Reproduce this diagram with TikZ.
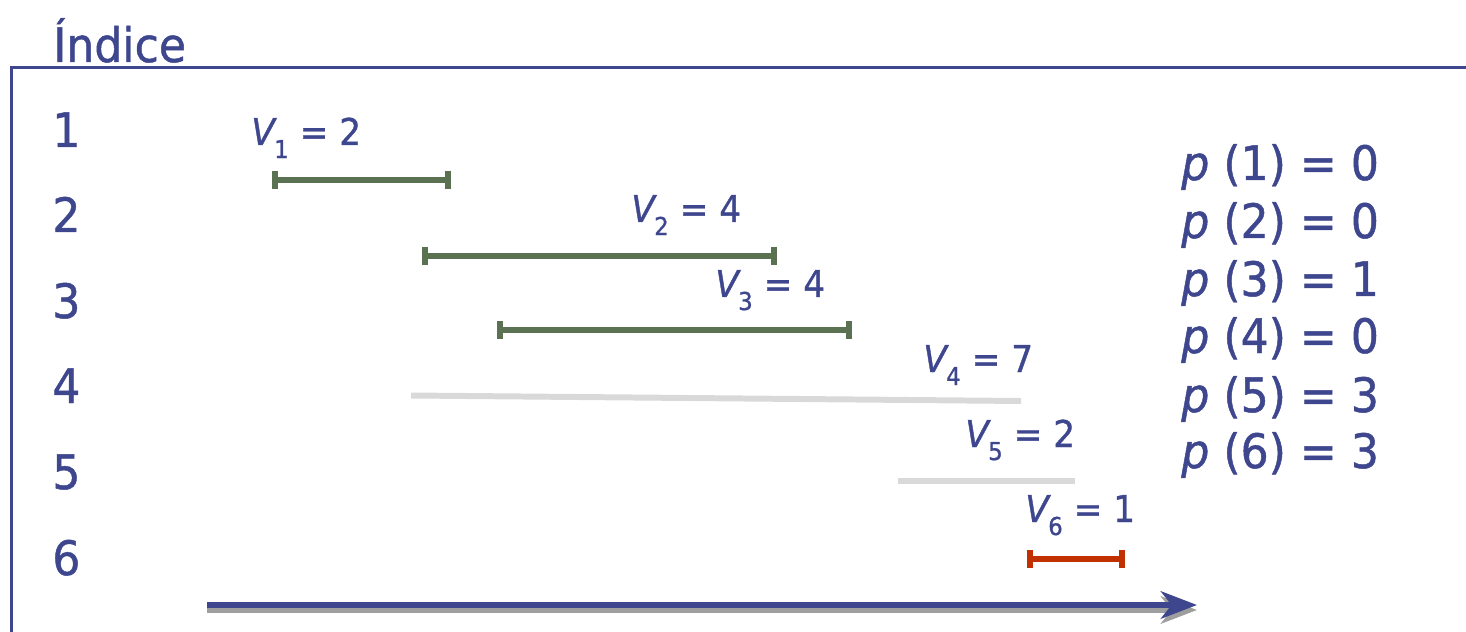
\documentclass[tikz,border=0pt]{standalone}
\usepackage{fontspec}
\setmainfont{DejaVu Sans}[FakeStretch=0.93, FakeBold=1]
\usetikzlibrary{arrows.meta}
\definecolor{slideblue}{RGB}{62,71,142}
\definecolor{jobgreen}{RGB}{90,114,82}
\definecolor{jobred}{RGB}{192,48,0}
\definecolor{jobgray}{RGB}{217,217,217}
\definecolor{shadowgray}{RGB}{158,158,158}
\newcommand{\vlab}[2]{\textit{V}\kern-1.5pt\raisebox{-7.4pt}{\fontsize{14}{14}\selectfont #1}\ =\ #2}

\begin{document}
\begin{tikzpicture}[
        x=0.2mm, y=-0.2mm,
        idx/.style={
          anchor=base west,
          inner sep=0pt,
          text=slideblue,
          font=\fontsize{27}{31}\selectfont
        },
        vlabel/.style={idx, font=\fontsize{21}{25}\selectfont},
        job/.style={line width=3.6pt, jobgreen, {Bar[width=10.6pt]}-{Bar[width=10.6pt]}},
        dropped/.style={line width=3.4pt, jobgray}
      ]
      \useasboundingbox (0,0) rectangle (1466,632);

      \node[idx] (title) at (53,62) {Índice};
      \coordinate (frametr) at (1466,67.5);
      \coordinate (frametl) at (11.5,67.5);
      \coordinate (framebl) at (11.5,632);
      \draw[slideblue, line width=2pt] (frametr) -- (frametl) -- (framebl);

      \foreach \i/\yy in {1/147,2/232,3/318,4/403,5/489,6/575}
        \node[idx] (idx\i) at (52,\yy) {\i};

      \node[vlabel] (v1) at (251,145) {\vlab{1}{2}};
      \node[vlabel] (v2) at (631,222) {\vlab{2}{4}};
      \node[vlabel] (v3) at (715,297) {\vlab{3}{4}};
      \node[vlabel] (v4) at (923,372) {\vlab{4}{7}};
      \node[vlabel] (v5) at (965,447) {\vlab{5}{2}};
      \node[vlabel] (v6) at (1025,522) {\vlab{6}{1}};

      \coordinate (s1) at (272,180);  \coordinate (f1) at (451,180);
      \coordinate (s2) at (422,256);  \coordinate (f2) at (777,256);
      \coordinate (s3) at (497,330);  \coordinate (f3) at (852,330);
      \coordinate (s4) at (411,395.5); \coordinate (f4) at (1021,401);
      \coordinate (s5) at (898,481);  \coordinate (f5) at (1075,481);
      \coordinate (s6) at (1027,559); \coordinate (f6) at (1125,559);

      \draw[job] (s1) -- (f1);
      \draw[job] (s2) -- (f2);
      \draw[job] (s3) -- (f3);
      \draw[dropped] (s4) -- (f4);
      \draw[dropped] (s5) -- (f5);
      \draw[job, jobred] (s6) -- (f6);

      \foreach \i/\v/\yy in {1/0/180,2/0/238,3/1/296,4/0/353,5/3/412,6/3/468}
        \node[idx] (p\i) at (1181,\yy) {\textit{p}\ (\i)\ =\ \v};

      \coordinate (timestart) at (207,605);
      \coordinate (timeend) at (1197,605);
      \draw[shadowgray, line width=3.4pt, -{Stealth[length=20.5pt, width=15.5pt, inset=6pt]}]
        ([yshift=-0.1cm]timestart) -- ([yshift=-0.1cm]timeend);
      \draw[slideblue, line width=3.8pt, -{Stealth[length=20.5pt, width=15.5pt, inset=6pt]}]
        (timestart) -- (timeend);
    \end{tikzpicture}
\end{document}
